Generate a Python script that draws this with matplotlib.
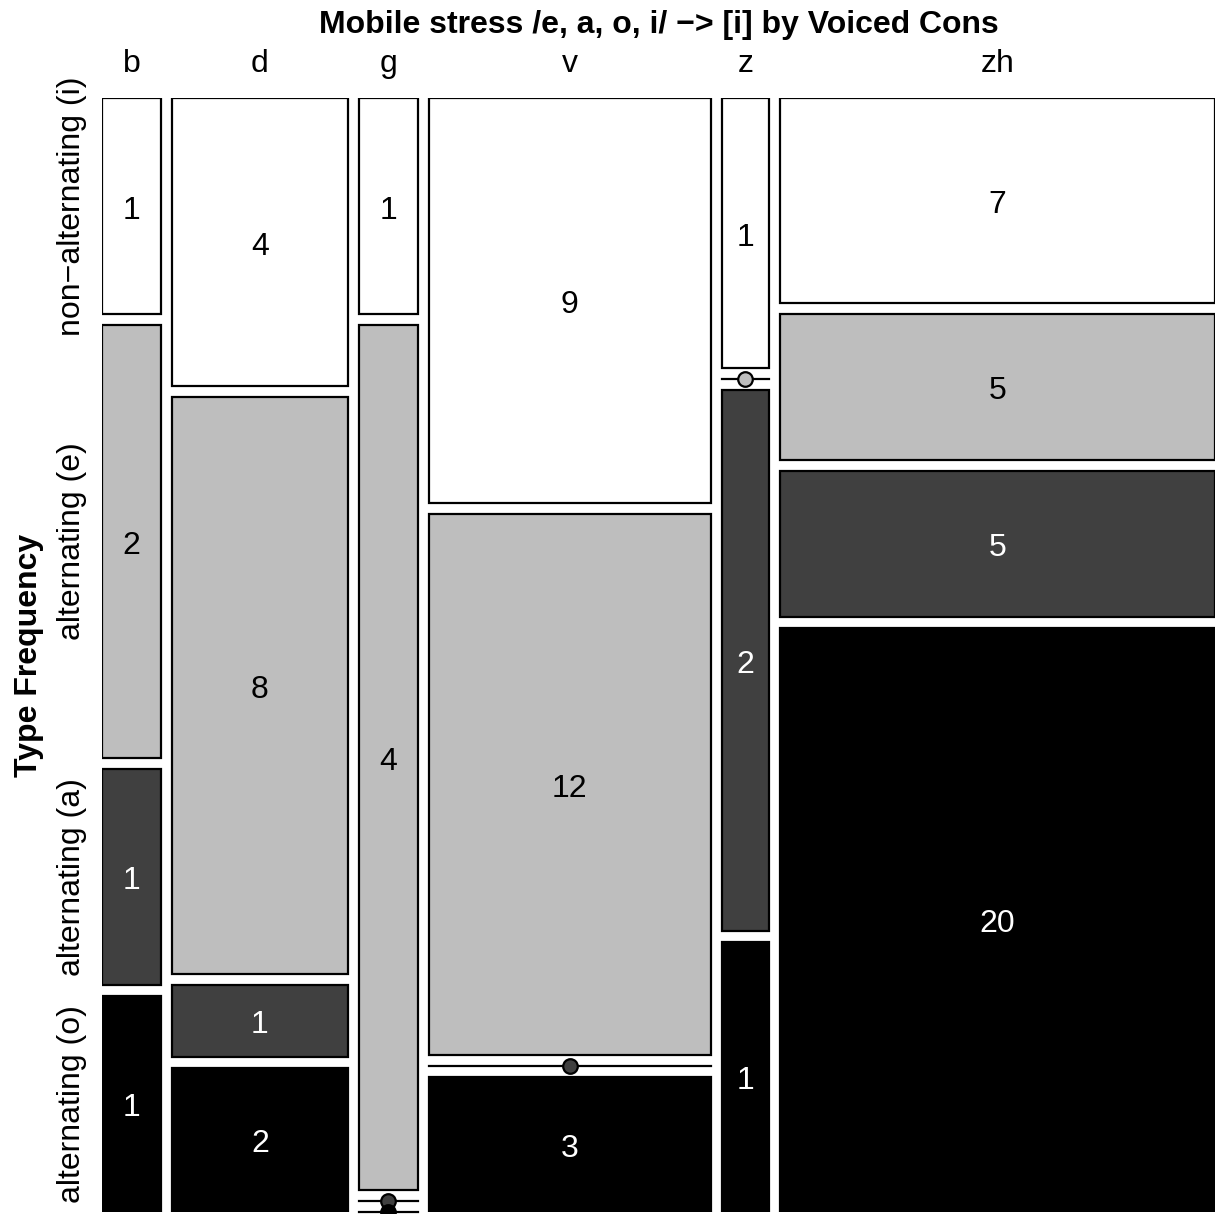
import matplotlib
matplotlib.use('Agg')
import matplotlib.pyplot as plt
from matplotlib.patches import Rectangle

plt.rcParams['font.family'] = ['Liberation Sans', 'DejaVu Sans']

# data: counts per voiced consonant (columns) and alternation type (rows)
consonants = ['b', 'd', 'g', 'v', 'z', 'zh']
row_labels = ['non\u2212alternating (i)', 'alternating (e)', 'alternating (a)', 'alternating (o)']
counts = [
    [1, 4, 1, 9, 1, 7],    # non-alternating (i)
    [2, 8, 4, 12, 0, 5],   # alternating (e)
    [1, 1, 0, 0, 2, 5],    # alternating (a)
    [1, 2, 0, 3, 1, 20],   # alternating (o)
]
fills = ['white', '#BEBEBE', '#404040', 'black']
text_cols = ['black', 'black', 'white', 'white']

W, H = 1216, 1214
fig = plt.figure(figsize=(W / 100, H / 100), dpi=100)
ax = fig.add_axes([102 / W, 2 / H, 1113 / W, 1114 / H])
ax.set_xlim(0, 1)
ax.set_ylim(1, 0)
ax.axis('off')

gx = 10.8 / 1113
gy = 11 / 1114
fs = 23
ncol = len(consonants)
nrow = len(row_labels)
col_tot = [sum(counts[r][c] for r in range(nrow)) for c in range(ncol)]
total = sum(col_tot)

x = 0
row_centers = []
for c in range(ncol):
    w = (1 - (ncol - 1) * gx) * col_tot[c] / total
    y = 0
    for r in range(nrow):
        n = counts[r][c]
        h = (1 - (nrow - 1) * gy) * n / col_tot[c]
        if n > 0:
            ax.add_patch(Rectangle((x, y), w, h, facecolor=fills[r],
                                   edgecolor='black', lw=1.6))
            ax.text(x + w / 2, y + h / 2 + 4.5 / 1114, str(n), ha='center',
                    va='center', fontsize=fs, color=text_cols[r])
        else:
            ax.plot([x, x + w], [y, y], color='black', lw=1.6, clip_on=False)
            ax.plot(x + w / 2, y, 'o', ms=10.5, mfc=fills[r], mec='black',
                    mew=1.6, clip_on=False)
        if c == 0:
            row_centers.append(y + h / 2)
        y += h + gy
    ax.text(x + w / 2, -34 / 1114, consonants[c], ha='center', va='center',
            fontsize=fs)
    x += w + gx

for r in range(nrow):
    ax.text(-30 / 1113, row_centers[r], row_labels[r], rotation=90,
            ha='center', va='center', fontsize=fs)

ax.text(0.5, -73 / 1114, 'Mobile stress /e, a, o, i/ \u2212> [i] by Voiced Cons',
        ha='center', va='center', fontsize=fs, fontweight='bold')
ax.text(-73 / 1113, 0.5, 'Type Frequency', rotation=90, ha='center',
        va='center', fontsize=fs, fontweight='bold')

fig.savefig('out.png', dpi=100)
